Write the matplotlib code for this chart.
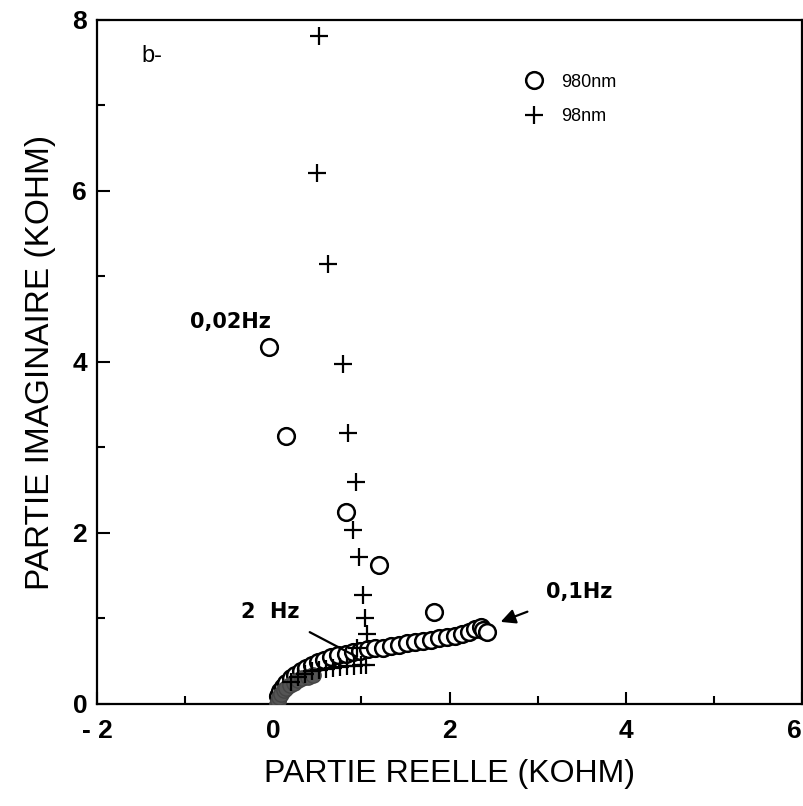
import matplotlib
matplotlib.use("Agg")
import matplotlib.pyplot as plt
from matplotlib.ticker import MultipleLocator, FixedLocator

plt.rcParams['font.family'] = ['Liberation Sans', 'DejaVu Sans']

# 980 nm film: impedance points from high to low frequency (kOhm)
re_980 = [0.05, 0.08, 0.11, 0.15, 0.20, 0.25, 0.31, 0.37, 0.44, 0.51, 0.58,
          0.66, 0.74, 0.82, 0.90, 0.98, 1.07, 1.16, 1.25, 1.34, 1.43, 1.52, 1.61,
          1.70, 1.79, 1.88, 1.97, 2.06, 2.14, 2.22, 2.29, 2.36, 2.38, 2.42,
          1.82, 1.20, 0.83, 0.14, -0.05]
im_980 = [0.09, 0.15, 0.20, 0.25, 0.30, 0.34, 0.38, 0.42, 0.46, 0.49, 0.52,
          0.55, 0.57, 0.59, 0.61, 0.62, 0.64, 0.65, 0.66, 0.68, 0.69, 0.71, 0.72,
          0.74, 0.75, 0.77, 0.78, 0.80, 0.82, 0.84, 0.88, 0.90, 0.86, 0.84,
          1.08, 1.63, 2.25, 3.13, 4.17]

# 98 nm film: impedance points from high to low frequency (kOhm)
re_98 = [0.20, 0.28, 0.36, 0.44, 0.52, 0.60, 0.68, 0.76, 0.84, 0.92, 1.00, 1.05,
         0.95, 1.06, 1.04, 1.02, 0.97, 0.91, 0.94, 0.85, 0.79, 0.62, 0.50, 0.52]
im_98 = [0.26, 0.31, 0.35, 0.38, 0.40, 0.41, 0.42, 0.43, 0.44, 0.44, 0.45, 0.45,
         0.65, 0.82, 1.00, 1.28, 1.72, 2.03, 2.60, 3.17, 3.98, 5.15, 6.21, 7.81]

# densely packed high-frequency points of the 98 nm film near the origin
re_98_hf = [0.04, 0.05, 0.07, 0.09, 0.12, 0.15, 0.19, 0.23, 0.28, 0.33, 0.39, 0.45]
im_98_hf = [0.00, 0.04, 0.08, 0.12, 0.16, 0.19, 0.22, 0.25, 0.28, 0.30, 0.32, 0.34]

x_ticks = [-2, 0, 2, 4, 6]
x_tick_labels = ["- 2", "0", "2", "4", "6"]
y_ticks = [0, 2, 4, 6, 8]
y_tick_labels = ["0", "2", "4", "6", "8"]

fig = plt.figure(figsize=(8.04, 8.06), dpi=100)
ax = fig.add_axes([0.1206, 0.1266, 0.877, 0.8486])

ax.plot(re_980, im_980, linestyle='none', marker='o', markersize=12,
        markerfacecolor='white', markeredgecolor='black', markeredgewidth=1.8,
        label='980nm', zorder=3)
ax.plot(re_98_hf, im_98_hf, linestyle='none', marker='o', markersize=11,
        markerfacecolor='#555555', markeredgecolor='#444444', zorder=3.5)
ax.plot(re_98, im_98, linestyle='none', marker='+', markersize=13,
        color='black', markeredgewidth=1.6, label='98nm', zorder=4)

ax.set_xlim(-2, 6)
ax.set_ylim(0, 8)
ax.xaxis.set_major_locator(FixedLocator(x_ticks))
ax.set_xticklabels(x_tick_labels)
ax.yaxis.set_major_locator(FixedLocator(y_ticks))
ax.set_yticklabels(y_tick_labels)
ax.xaxis.set_minor_locator(MultipleLocator(1))
ax.yaxis.set_minor_locator(MultipleLocator(1))
ax.tick_params(which='both', direction='in', width=1.5, top=False, right=False)
ax.tick_params(which='major', length=9, labelsize=19)
ax.tick_params(axis='x', which='major', pad=11)
ax.tick_params(axis='y', which='major', pad=7)
ax.tick_params(which='minor', length=6)
for lab in ax.get_xticklabels() + ax.get_yticklabels():
    lab.set_fontweight('bold')
ax.get_xticklabels()[-1].set_horizontalalignment('right')
for sp in ax.spines.values():
    sp.set_linewidth(1.6)

ax.set_xlabel("PARTIE REELLE (KOHM)", fontsize=23, labelpad=11)
ax.set_ylabel("PARTIE IMAGINAIRE (KOHM)", fontsize=24, labelpad=12)

ax.legend(loc='center left', bbox_to_anchor=(0.581, 0.884), frameon=False,
          fontsize=13, handlelength=1.2, handletextpad=0.9, labelspacing=0.95)

ax.text(-1.5, 7.58, "b-", fontsize=17, ha='left', va='center')

ax.text(-0.49, 4.47, "0,02Hz", fontsize=15, fontweight='bold',
        family=['DejaVu Sans'], ha='center', va='center')

ax.annotate("2  Hz", xy=(0.95, 0.55), xytext=(-0.03, 1.08),
            fontsize=15, fontweight='bold', family=['DejaVu Sans'],
            ha='center', va='center',
            arrowprops=dict(arrowstyle='-', color='black', lw=1.6,
                            shrinkA=12, shrinkB=0))

ax.annotate("0,1Hz", xy=(2.58, 0.96), xytext=(3.47, 1.31),
            fontsize=15, fontweight='bold', family=['DejaVu Sans'],
            ha='center', va='center',
            arrowprops=dict(arrowstyle='-|>', color='black', lw=1.6,
                            mutation_scale=22, facecolor='#555555',
                            shrinkA=14, shrinkB=0))

fig.savefig("out.png", dpi=100)
